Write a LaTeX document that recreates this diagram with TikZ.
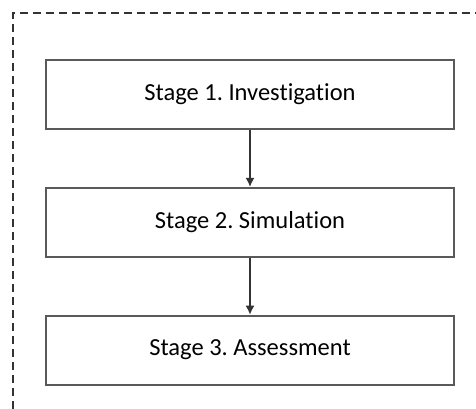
\documentclass[tikz,border=0pt]{standalone}
\usepackage{fontspec}
\setmainfont{Carlito}[Ligatures=NoCommon]
\frenchspacing
\usetikzlibrary{positioning,arrows.meta}

\begin{document}
\begin{tikzpicture}[x=1pt,y=-1pt,
  stagebox/.style={draw=black!65,line width=1.8pt,minimum width=408pt,minimum height=69pt,
    inner sep=0pt,font=\fontsize{24.5}{29}\selectfont},
  flow/.style={-{Latex[length=9pt,width=9pt]},line width=1.5pt,draw=black!80}]
  \useasboundingbox (0,0) rectangle (476,409);
  % dashed frame, open to the right and bottom
  \draw[black!80,line width=1.7pt,dash pattern=on 8pt off 5pt] (13,409) -- (13,13) -- (476,13);
  \node[stagebox] (stage1) at (250,94.5) {Stage 1. Investigation};
  \node[stagebox,below=57pt of stage1] (stage2) {Stage 2. Simulation};
  \node[stagebox,below=57pt of stage2] (stage3) {Stage 3. Assessment};
  \draw[flow] (stage1) -- (stage2);
  \draw[flow] (stage2) -- (stage3);
\end{tikzpicture}
\end{document}
